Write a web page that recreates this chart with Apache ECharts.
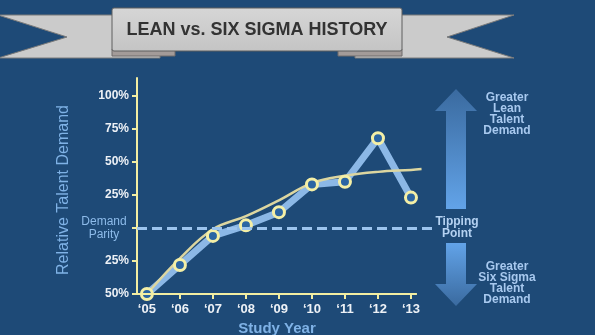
<!DOCTYPE html>
<html>
<head>
<meta charset="utf-8">
<script src="https://cdn.jsdelivr.net/npm/echarts@6/dist/echarts.min.js"></script>
<style>
html, body { margin: 0; padding: 0; background: #1e4a77; }
#main { width: 595px; height: 335px; }
</style>
</head>
<body>
<div id="main"></div>
<script>
// study years ('05 .. '13) and relative demand, lean = positive, six sigma = negative
var years = [5, 6, 7, 8, 9, 10, 11, 12, 13];
var yearLabels = ["\u201805", "\u201806", "\u201807", "\u201808", "\u201809", "\u201810", "\u201811", "\u201812", "\u201813"];
var demand = [-50, -28, -6, 2, 12, 33, 35, 68, 23];
// trend curve
var trendYears = [5, 6, 7, 8, 9, 10, 11, 12, 13, 13.32];
var trendValues = [-50, -23, -1, 9, 21, 34, 39.5, 42.5, 44, 44.6];
var yTicks = [-50, -25, 0, 25, 50, 75, 100];

var axisYellow = "#f3eea2";
var paleBlue = "#7fb2e6";
var font = "Liberation Sans";

function pairs(xs, ys) {
  var out = [];
  for (var i = 0; i < xs.length; i++) {
    out.push([xs[i], ys[i]]);
  }
  return out;
}

var chart = echarts.init(document.getElementById("main"));
var option = {
  backgroundColor: "#1e4a77",
  animation: false,
  textStyle: { fontFamily: font },
  grid: { left: 137, right: 162, top: 78, bottom: 41, outerBoundsMode: "none" },
  xAxis: {
    type: "value",
    min: 4.7,
    max: 13.667,
    splitLine: { show: false },
    axisLine: { show: false, onZero: false },
    axisTick: {
      show: true,
      customValues: years,
      length: 5,
      lineStyle: { color: axisYellow, width: 2 }
    },
    axisLabel: {
      customValues: years,
      margin: 9,
      color: "#edf1f6",
      fontWeight: "bold",
      fontSize: 13,
      fontFamily: font,
      formatter: function (v) {
        return yearLabels[years.indexOf(v)];
      }
    },
    name: "Study Year",
    nameLocation: "middle",
    nameGap: 26,
    nameTextStyle: {
      color: paleBlue,
      fontSize: 15,
      fontWeight: "bold",
      fontFamily: font,
      padding: [0, 16, 0, 0]
    }
  },
  yAxis: {
    type: "value",
    min: -50,
    max: 113.6,
    splitLine: { show: false },
    axisLine: { show: true, onZero: false, lineStyle: { color: axisYellow, width: 2 } },
    axisTick: {
      show: true,
      customValues: yTicks,
      length: 5,
      lineStyle: { color: axisYellow, width: 2 }
    },
    axisLabel: {
      customValues: yTicks,
      margin: 8,
      color: "#edf1f6",
      fontWeight: "bold",
      fontSize: 12,
      fontFamily: font,
      formatter: function (v) {
        if (v === 0) {
          return "{p|Demand}\n{p|Parity}";
        }
        return Math.abs(v) + "%";
      },
      rich: {
        p: {
          color: "#8dbbea",
          fontSize: 12,
          fontWeight: "normal",
          fontFamily: font,
          width: 50,
          align: "center",
          lineHeight: 13
        }
      }
    },
    name: "Relative Talent Demand",
    nameLocation: "middle",
    nameGap: 65,
    nameTextStyle: { color: paleBlue, fontSize: 16, fontFamily: font, padding: [0, 8, 0, 0] }
  },
  series: [
    {
      name: "demand",
      type: "line",
      data: pairs(years, demand),
      showSymbol: false,
      z: 2,
      lineStyle: { color: "#8cb8e6", width: 7, join: "round" },
      markLine: {
        silent: true,
        symbol: "none",
        label: { show: false },
        data: [
          // parity reference line
          [
            { coord: [4.7, 0], lineStyle: { color: "#9cc4ee", width: 3, type: [10, 5] } },
            { coord: [13.667, 0] }
          ],
          // x axis line, shorter than the grid
          [
            { coord: [4.7, -50], lineStyle: { color: axisYellow, width: 2, type: "solid" } },
            { coord: [13.18, -50] }
          ]
        ]
      }
    },
    {
      name: "trend",
      type: "line",
      data: pairs(trendYears, trendValues),
      smooth: 0.4,
      showSymbol: false,
      z: 3,
      lineStyle: { color: "#dcd6a0", width: 2.5 }
    },
    {
      name: "points",
      type: "scatter",
      data: pairs(years, demand),
      symbolSize: 11,
      z: 4,
      itemStyle: { color: "#2b65a3", borderColor: "#f4efa6", borderWidth: 3, opacity: 1 }
    }
  ],
  graphic: [
    // ribbon tails
    {
      type: "polygon",
      shape: { points: [[-2, 15], [160, 15], [160, 58], [-2, 58], [67, 37]] },
      style: { fill: "#cbcbcb", stroke: "#7a7a7a", lineWidth: 1 }
    },
    {
      type: "polygon",
      shape: { points: [[355, 15], [514, 15], [447, 37], [514, 58], [355, 58]] },
      style: { fill: "#cbcbcb", stroke: "#7a7a7a", lineWidth: 1 }
    },
    // folds under the box
    {
      type: "rect",
      shape: { x: 112, y: 49, width: 63, height: 7 },
      style: { fill: "#a39b99", stroke: "#6e6a6a", lineWidth: 1 }
    },
    {
      type: "rect",
      shape: { x: 338, y: 49, width: 64, height: 7 },
      style: { fill: "#a39b99", stroke: "#6e6a6a", lineWidth: 1 }
    },
    // title box
    {
      type: "rect",
      shape: { x: 112, y: 8, width: 290, height: 43, r: 2 },
      style: {
        fill: new echarts.graphic.LinearGradient(0, 0, 0, 1, [
          { offset: 0, color: "#d6d6d6" },
          { offset: 1, color: "#c4c4c4" }
        ]),
        stroke: "#5e5e5e",
        lineWidth: 1
      }
    },
    {
      type: "text",
      x: 257,
      y: 30,
      style: {
        text: "LEAN vs. SIX SIGMA HISTORY",
        fill: "#333333",
        font: "bold 18px Liberation Sans",
        align: "center",
        verticalAlign: "middle"
      }
    },
    // double arrow on the right
    {
      type: "polygon",
      shape: { points: [[456, 89], [477, 111], [466, 111], [466, 209], [446, 209], [446, 111], [435, 111]] },
      style: {
        fill: new echarts.graphic.LinearGradient(0, 0, 0, 1, [
          { offset: 0, color: "#3a6a9f" },
          { offset: 1, color: "#62a3e8" }
        ])
      }
    },
    {
      type: "polygon",
      shape: { points: [[446, 243], [466, 243], [466, 284], [477, 284], [456, 306], [435, 284], [446, 284]] },
      style: {
        fill: new echarts.graphic.LinearGradient(0, 0, 0, 1, [
          { offset: 0, color: "#62a3e8" },
          { offset: 1, color: "#3a6a9f" }
        ])
      }
    },
    {
      type: "text",
      x: 457,
      y: 216,
      style: {
        text: "Tipping\nPoint",
        fill: "#b5d2f2",
        font: "bold 12px Liberation Sans",
        align: "center",
        verticalAlign: "top",
        lineHeight: 11.5
      }
    },
    {
      type: "text",
      x: 507,
      y: 92,
      style: {
        text: "Greater\nLean\nTalent\nDemand",
        fill: "#a8c9ef",
        font: "bold 12px Liberation Sans",
        align: "center",
        verticalAlign: "top",
        lineHeight: 11
      }
    },
    {
      type: "text",
      x: 507,
      y: 261,
      style: {
        text: "Greater\nSix Sigma\nTalent\nDemand",
        fill: "#a8c9ef",
        font: "bold 12px Liberation Sans",
        align: "center",
        verticalAlign: "top",
        lineHeight: 11
      }
    }
  ]
};
chart.setOption(option);
</script>
</body>
</html>
